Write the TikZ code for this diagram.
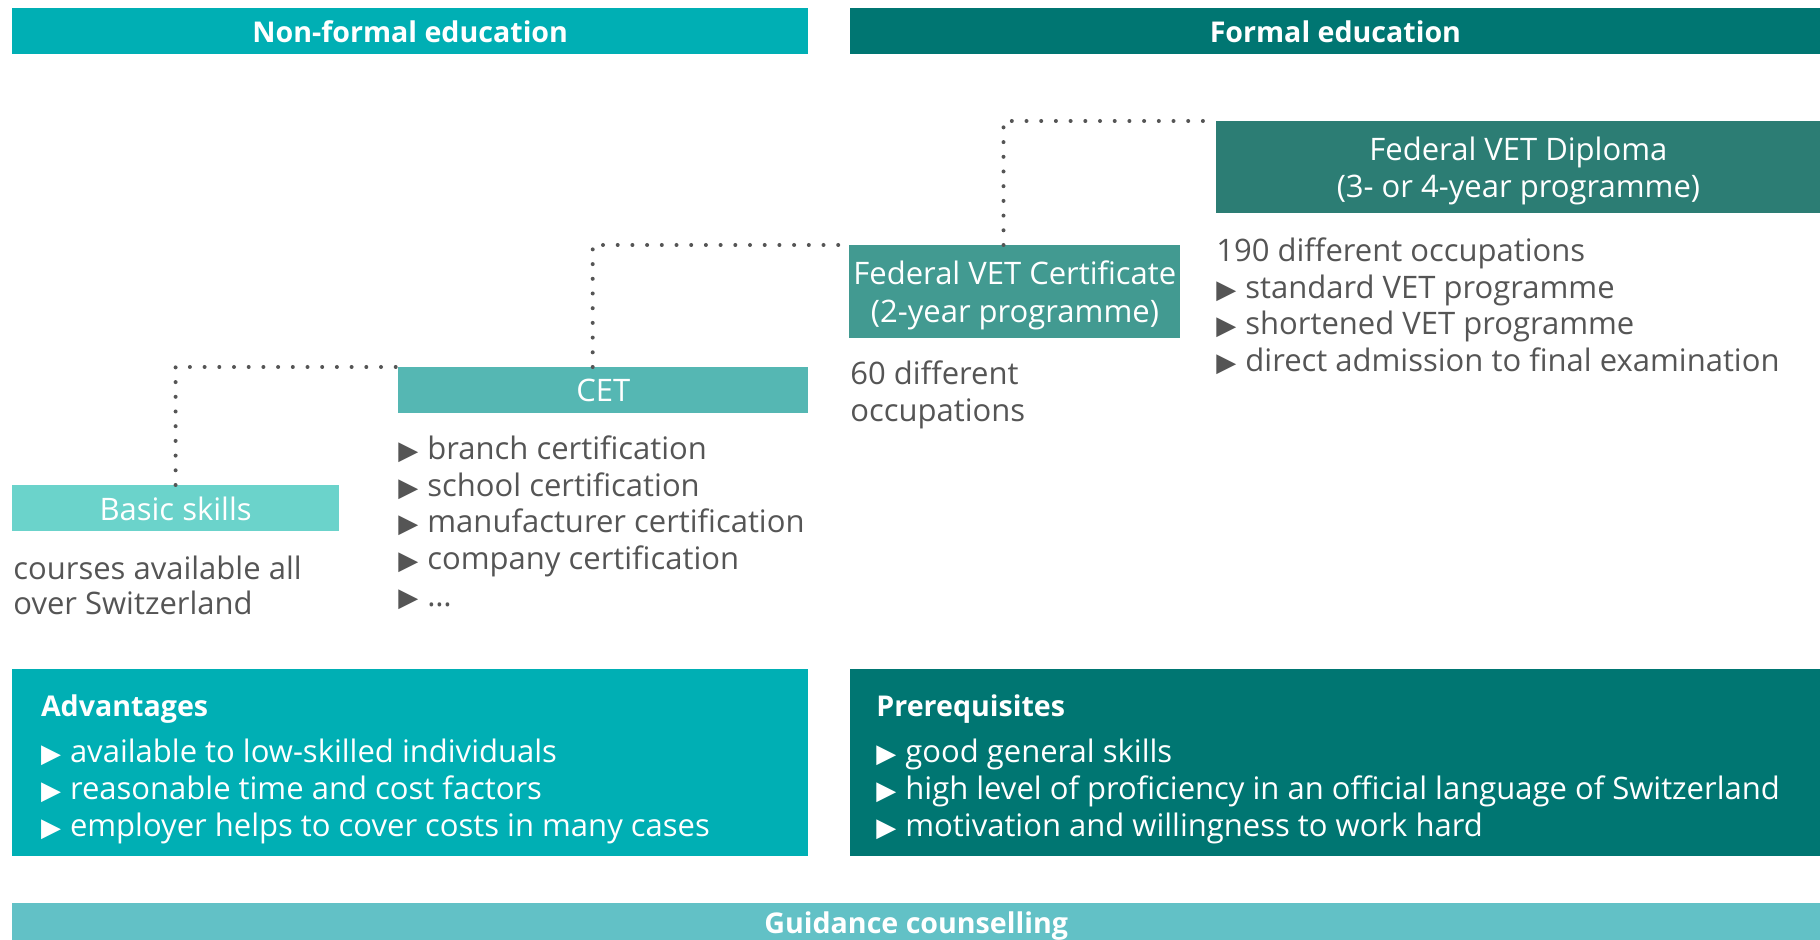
\documentclass[tikz,border=0pt]{standalone}
\usepackage{fontspec}
\setmainfont{Open Sans}
\newfontfamily\symfont{DejaVu Sans}
\definecolor{nfcol}{HTML}{00AFB4}
\definecolor{fcol}{HTML}{007672}
\definecolor{dipcol}{HTML}{2C7D74}
\definecolor{certcol}{HTML}{429A91}
\definecolor{cetcol}{HTML}{55B7B3}
\definecolor{basiccol}{HTML}{6BD3CB}
\definecolor{guidecol}{HTML}{62C1C6}
\definecolor{txtgray}{HTML}{555555}
\newcommand\tri{\makebox[14.5pt][l]{\symfont\fontsize{13}{13}\selectfont ▶}}

\begin{document}
\begin{tikzpicture}[x=0.5pt,y=-0.5pt]
\tikzstyle{every node}=[inner sep=0pt, font=\fontsize{15.5}{18.8}\selectfont]
\tikzstyle{box}=[anchor=north west, text=white, align=center, minimum height=23pt]
\tikzstyle{head}=[box, font=\fontsize{14.3}{18.4}\selectfont\bfseries]
\tikzstyle{desc}=[anchor=base west, text=txtgray]
\tikzstyle{title}=[anchor=base west, text=white, font=\fontsize{14.3}{18.4}\selectfont\bfseries]
\tikzstyle{dots}=[draw=txtgray, line width=2pt, line cap=round, dash pattern=on 0pt off 7.35pt]
\useasboundingbox (0,0) rectangle (1820,940);
\node[head, fill=nfcol, minimum width=398.2pt] (nfhead) at (11.6,8) {Non-formal education};
\node[head, fill=fcol, minimum width=485pt] (fhead) at (850,8) {Formal education};
\node[box, fill=dipcol, minimum width=302pt, minimum height=46pt] (diploma) at (1216,121) {\rule{0pt}{15.5pt}Federal VET Diploma\\(3- or 4-year programme)};
\node[box, fill=certcol, minimum width=165.5pt, minimum height=46.5pt] (cert) at (849,245) {\rule{0pt}{15.5pt}Federal VET Certificate\\(2-year programme)};
\node[box, fill=cetcol, minimum width=205pt] (cet) at (398,367) {CET};
\node[box, fill=basiccol, minimum width=163.5pt] (basic) at (11.7,485) {Basic skills};
\coordinate (cetup) at (592.7,367);
\coordinate (certup) at (1003.5,245);
\draw[dots] (basic.north) |- (cet.north west);
\draw[dots] (cetup) |- (cert.north west);
\draw[dots] (certup) |- (diploma.north west);
\node[desc] (occ190) at (1216,262) {190 different occupations};
\foreach \t [count=\i from 0] in {standard VET programme, shortened VET programme, direct admission to final examination}
  \node[desc] (dip-\i) at (1216,298.5+36.5*\i) {\tri\t};
\node[desc] (occ60) at (850,385) {60 different};
\node[desc] (occ60b) at (850,421.5) {occupations};
\foreach \t [count=\i from 0] in {branch certification, school certification, manufacturer certification, company certification, …}
  \node[desc] (cet-\i) at (398,460+36.5*\i) {\tri\t};
\node[desc] (courses) at (13,580) {courses available all};
\node[desc] (coursesb) at (13,615) {over Switzerland};
\node[box, fill=nfcol, minimum width=398.2pt, minimum height=93.4pt] (adv) at (11.6,668.6) {};
\node[title] (advtitle) at (40.6,716) {Advantages};
\foreach \t [count=\i from 0] in {available to low-skilled individuals, reasonable time and cost factors, employer helps to cover costs in many cases}
  \node[desc, text=white] (adv-\i) at (40.6,762+37*\i) {\tri\t};
\node[box, fill=fcol, minimum width=485pt, minimum height=93.4pt] (prereq) at (850,668.6) {};
\node[title] (pretitle) at (876,716) {Prerequisites};
\foreach \t [count=\i from 0] in {good general skills, high level of proficiency in an official language of Switzerland, motivation and willingness to work hard}
  \node[desc, text=white] (pre-\i) at (876,762+37*\i) {\tri\t};
\node[head, fill=guidecol, minimum width=904.2pt] (guide) at (11.6,903) {Guidance counselling};
\end{tikzpicture}
\end{document}
